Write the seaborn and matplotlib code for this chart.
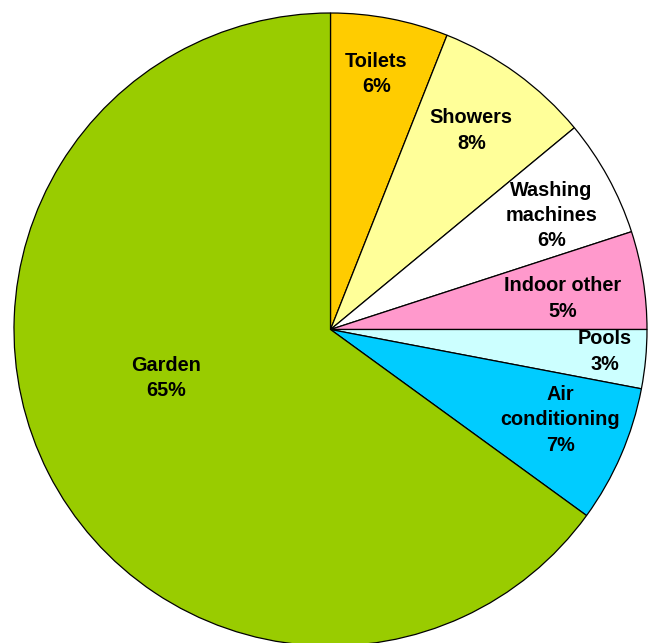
import numpy as np
import matplotlib
matplotlib.use("Agg")
import matplotlib.pyplot as plt
import seaborn as sns

sns.set_theme(style="white")
plt.rcParams['font.family'] = ['Liberation Sans', 'DejaVu Sans']

categories = ["Toilets", "Showers", "Washing\nmachines", "Indoor other", "Pools",
              "Air\nconditioning", "Garden"]
values = [6, 8, 6, 5, 3, 7, 65]
colors = ["#FFCC00", "#FFFF99", "#FFFFFF", "#FF99CC", "#CCFFFF", "#00CCFF", "#99CC00"]

# label placement (fraction of radius, angle offset in degrees)
label_dist = [0.82, 0.77, 0.785, 0.74, 0.87, 0.78, 0.54]
label_dang = [0.6, 0.7, -1.5, -1.4, 0.8, 1.9, -10.6]

W, H = 653, 643
cx, cy, R = 330.5, 329.5, 316.5

fig = plt.figure(figsize=(W / 100, H / 100), dpi=100)
ax = fig.add_axes([0, 0, 1, 1])
wedges, _ = ax.pie(values, colors=colors, startangle=90, counterclock=False,
                   radius=R, center=(0, 0),
                   wedgeprops=dict(edgecolor="black", linewidth=0.9))
ax.set_xlim(-cx, W - cx)
ax.set_ylim(-(H - cy), cy)
ax.set_aspect("auto")
ax.axis("off")

total = sum(values)
ang = 90.0
for lab, v, d, da in zip(categories, values, label_dist, label_dang):
    span = 360.0 * v / total
    mid = np.deg2rad(ang - span / 2 + da)
    ang -= span
    x, y = d * R * np.cos(mid), d * R * np.sin(mid)
    ax.text(x, y, f"{lab}\n{v}%", ha="center", va="center", fontsize=14.3,
            fontweight="bold", linespacing=1.42, color="black")

fig.savefig("out.png", dpi=100, facecolor="white")
